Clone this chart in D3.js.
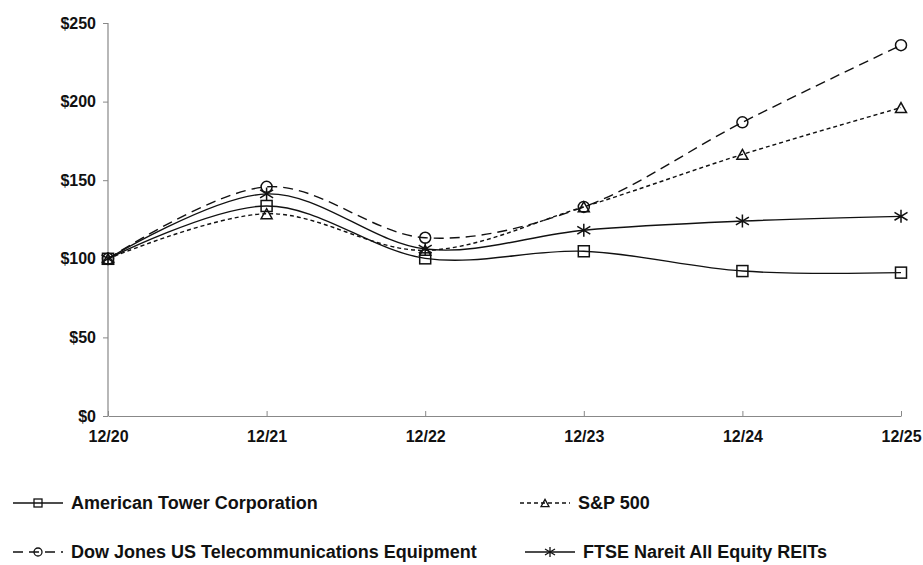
<!DOCTYPE html>
<html>
<head>
<meta charset="utf-8">
<script src="https://cdn.jsdelivr.net/npm/d3@7"></script>
<style>
  body { margin: 0; background: #fff; }
  .tick-label { font-family: "Liberation Sans", Arial, sans-serif; font-weight: bold; font-size: 16px; }
  .legend-label { font-family: "Liberation Sans", Arial, sans-serif; font-weight: bold; font-size: 18px; }
</style>
</head>
<body>
<div id="chart"></div>
<script>
var years = ["12/20", "12/21", "12/22", "12/23", "12/24", "12/25"];
var yTicks = [0, 50, 100, 150, 200, 250];

var americanTower = [100, 133.6, 100.3, 104.8, 92.2, 91.2];
var sp500 = [100, 128.7, 105.4, 133.1, 166.4, 196.2];
var dowJonesTelecom = [100, 145.8, 113.4, 133.0, 186.8, 235.9];
var ftseNareit = [100, 141.3, 106.2, 118.2, 124.0, 127.0];

var seriesNames = [
  "American Tower Corporation",
  "S&P 500",
  "Dow Jones US Telecommunications Equipment",
  "FTSE Nareit All Equity REITs"
];

var width = 923, height = 565;
var margin = { left: 108, right: 22, top: 23, bottom: 149 };

var svg = d3.select("#chart").append("svg")
  .attr("width", width)
  .attr("height", height);

var x = d3.scalePoint()
  .domain(years)
  .range([margin.left, width - margin.right]);

var y = d3.scaleLinear()
  .domain([0, 250])
  .range([height - margin.bottom, margin.top]);

// series styling: dash pattern + marker type
var series = [
  { name: seriesNames[0], values: americanTower, dash: null, marker: "square" },
  { name: seriesNames[1], values: sp500, dash: "4,3", marker: "triangle" },
  { name: seriesNames[2], values: dowJonesTelecom, dash: "10,6", marker: "circle" },
  { name: seriesNames[3], values: ftseNareit, dash: null, marker: "star" }
];

// axes
var yAxis = svg.append("g")
  .attr("transform", "translate(" + margin.left + ",0)")
  .call(d3.axisLeft(y).tickValues(yTicks).tickSize(5).tickFormat(function(d){ return "$" + d; }));

var xAxis = svg.append("g")
  .attr("transform", "translate(0," + y(0) + ")")
  .call(d3.axisBottom(x).tickSize(-5).tickSizeOuter(0));

[yAxis, xAxis].forEach(function(g){
  g.select(".domain").attr("stroke", "#888").attr("stroke-width", 1.2);
  g.selectAll(".tick line").attr("stroke", "#888");
  g.selectAll(".tick text").attr("class", "tick-label").attr("fill", "#111");
});
yAxis.select(".domain").attr("d", "M" + 0 + "," + y(250) + "V" + y(0));
yAxis.selectAll(".tick text").attr("x", -12);
xAxis.selectAll(".tick text").attr("y", 15);

var line = d3.line()
  .x(function(d, i){ return x(years[i]); })
  .y(function(d){ return y(d); })
  .curve(d3.curveCardinal.tension(0));

function drawMarker(g, type, cx, cy, s) {
  if (type === "square") {
    g.append("rect").attr("x", cx - s / 2).attr("y", cy - s / 2)
      .attr("width", s).attr("height", s);
  } else if (type === "triangle") {
    var h = s * 0.9;
    g.append("path").attr("d", "M" + cx + "," + (cy - h / 2) +
      "L" + (cx + s / 2) + "," + (cy + h / 2) +
      "L" + (cx - s / 2) + "," + (cy + h / 2) + "Z");
  } else if (type === "circle") {
    g.append("circle").attr("cx", cx).attr("cy", cy).attr("r", s / 2);
  } else if (type === "star") {
    var r = s / 2;
    g.append("path").attr("d",
      "M" + cx + "," + (cy - r) + "V" + (cy + r) +
      "M" + (cx - r) + "," + (cy - r * 0.6) + "L" + (cx + r) + "," + (cy + r * 0.6) +
      "M" + (cx - r) + "," + (cy + r * 0.6) + "L" + (cx + r) + "," + (cy - r * 0.6));
  }
}

var plot = svg.append("g");

series.forEach(function(s){
  plot.append("path")
    .datum(s.values)
    .attr("fill", "none")
    .attr("stroke", "#111")
    .attr("stroke-width", 1.4)
    .attr("stroke-dasharray", s.dash)
    .attr("d", line);
});

series.forEach(function(s){
  var mg = plot.append("g")
    .attr("fill", "none")
    .attr("stroke", "#111")
    .attr("stroke-width", 1.5);
  s.values.forEach(function(v, i){
    drawMarker(mg, s.marker, x(years[i]), y(v), s.marker === "star" ? 13 : 11);
  });
});

// legend
var legendPos = [
  { x: 13, y: 503 },
  { x: 520, y: 503 },
  { x: 13, y: 552 },
  { x: 525, y: 552 }
];

series.forEach(function(s, i){
  var p = legendPos[i];
  var lg = svg.append("g").attr("transform", "translate(" + p.x + "," + p.y + ")");
  lg.append("line")
    .attr("x1", 0).attr("x2", 50).attr("y1", 0).attr("y2", 0)
    .attr("stroke", "#111").attr("stroke-width", 1.4)
    .attr("stroke-dasharray", s.dash);
  var mg = lg.append("g").attr("fill", "none").attr("stroke", "#111").attr("stroke-width", 1.3);
  drawMarker(mg, s.marker, 25, 0, s.marker === "star" ? 10 : 8);
  lg.append("text")
    .attr("class", "legend-label")
    .attr("x", 58)
    .attr("y", 0)
    .attr("dy", "0.36em")
    .attr("fill", "#111")
    .text(s.name);
});
</script>
</body>
</html>
